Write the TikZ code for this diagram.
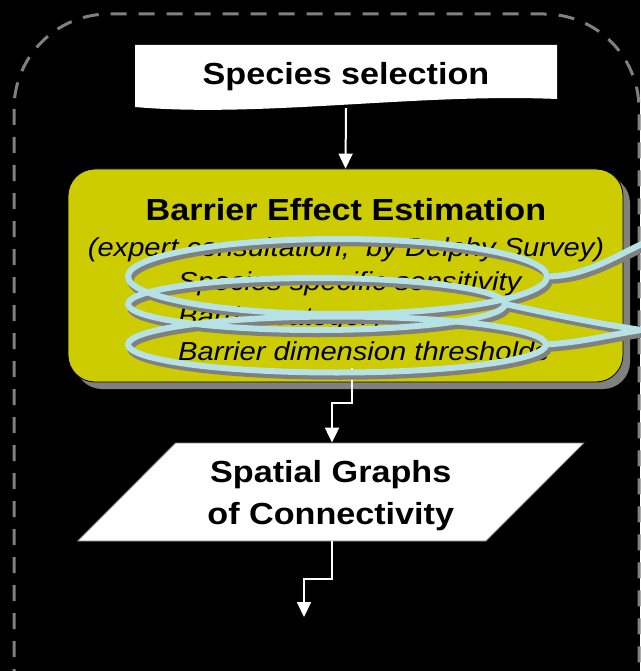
\documentclass[tikz,border=0pt]{standalone}
\usepackage{fontspec}
\setmainfont{Liberation Sans}[FakeStretch=1.12]
\usetikzlibrary{arrows.meta,shapes.geometric,shadows}

\definecolor{beeyellow}{RGB}{204,204,0}
\definecolor{shadegray}{RGB}{128,128,128}
\definecolor{coilblue}{RGB}{182,226,230}
\definecolor{framegray}{RGB}{128,128,128}

\newcommand\headfont{\fontsize{30.5}{34}\selectfont\bfseries}
\newcommand\parafont{\fontsize{30.5}{42.5}\selectfont\bfseries}
\newcommand\notefont{\fontsize{26}{30}\selectfont\itshape}

% the lasso wound round the estimation box
\def\lassopath{%
  (337.5,276.5) ellipse [x radius=209.5, y radius=37.5]
  (316.5,304) ellipse [x radius=188.5, y radius=26]
  (337,344.5) ellipse [x radius=209, y radius=28]
  (547,276.5) .. controls (585,276) and (612,258) .. (648,241)
  (505,304) .. controls (560,316) and (600,324) .. (648,331)
  (546,344.5) .. controls (585,342) and (612,334) .. (648,329)}

\begin{document}
\begin{tikzpicture}[x=1pt,y=-1pt,
  conn/.style={draw=white,line width=2pt,-{Triangle[width=14pt,length=15pt]}},
  coilshade/.style={draw=shadegray,line width=6.5pt,line cap=round},
  coilline/.style={draw=coilblue,line width=6pt,line cap=round},
  notetext/.style={font=\notefont,inner sep=0pt,text=black}]

\useasboundingbox (0,0) rectangle (640,671);
\fill[black] (0,0) rectangle (640,671);

% dashed frame, open below
\draw[framegray,line width=3pt,dash pattern=on 16pt off 12pt,rounded corners=95pt]
  (14,14) rectangle (639,800);

% document-shaped box with a wavy lower edge
\fill[white] (135,45) -- (557,45) -- (557,99)
  .. controls (420,93) and (260,118) .. (135,107) -- cycle;
\node[font=\headfont,minimum width=422pt,minimum height=63pt,inner sep=0pt]
  (spec) at (346,76.5) {Species selection};

% estimation box
\node[draw=black,line width=0.8pt,fill=beeyellow,rounded corners=27pt,
  minimum width=555pt,minimum height=213pt,
  drop shadow={shadow xshift=7pt,shadow yshift=-7pt,fill=shadegray,opacity=1}]
  (bee) at (345.5,275.5) {};

\draw[conn] (spec.south) -- (bee.north);

\node[font=\headfont,inner sep=0pt,anchor=base] (title) at (346,220)
  {Barrier Effect Estimation};
\node[notetext,anchor=base] (subtitle) at (346,256)
  {(expert consultation,\ \ by Delphy Survey)};
\node[notetext,anchor=base west] (l1) at (178,290) {Species specific sensitivity};
\node[notetext,anchor=base west] (l2) at (178,325) {Barrier category};
\node[notetext,anchor=base west] (l3) at (178,360) {Barrier dimension thresholds};

% output parallelogram
\node[trapezium,trapezium left angle=45,trapezium right angle=135,
  trapezium stretches=true,minimum width=509pt,minimum height=98pt,
  inner sep=0pt,fill=white,draw=shadegray,line width=0.8pt,
  font=\parafont,align=center]
  (para) at (330.75,492) {\rule{0pt}{29pt}Spatial Graphs\\of Connectivity};

% connectors
\coordinate (k1) at (352,368);
\coordinate (k2) at (332,403);
\coordinate (k3) at (304,579);
\coordinate (endpt) at (304,617);
\draw[conn] (k1) |- (k2) -- (k2 |- para.north);
\draw[conn] (para.south -| k2) |- (k3) -- (endpt);

% lasso with its shadow
\draw[coilshade,shift={(2.5,4)}] \lassopath;
\draw[coilline] \lassopath;

\end{tikzpicture}
\end{document}
